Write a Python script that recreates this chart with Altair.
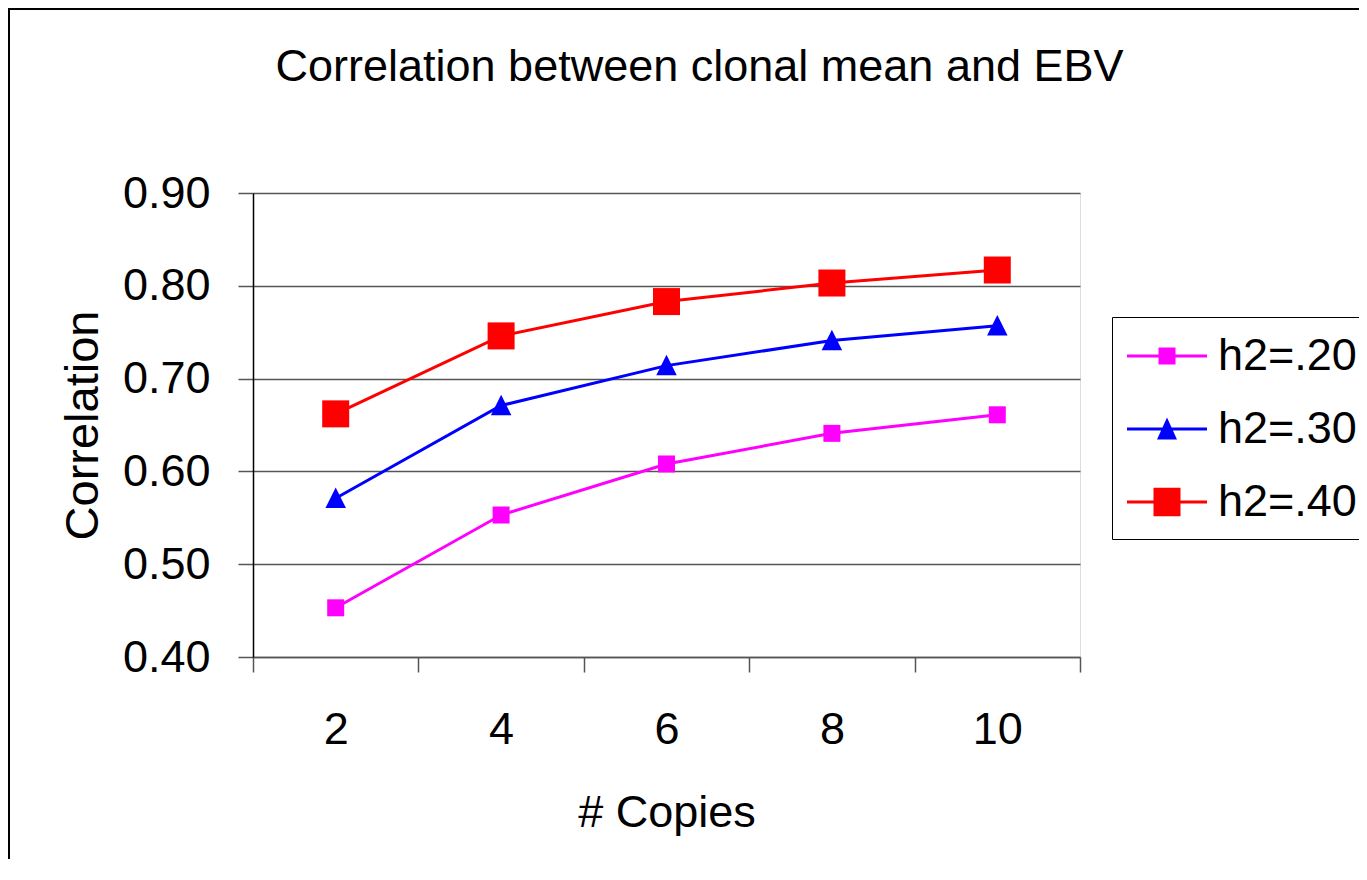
import altair as alt
import pandas as pd

# ---- data ----
copies = ["2", "4", "6", "8", "10"]
series_names = ["h2=.20", "h2=.30", "h2=.40"]
h2_20 = [0.453, 0.553, 0.608, 0.641, 0.661]
h2_30 = [0.571, 0.671, 0.714, 0.741, 0.757]
h2_40 = [0.662, 0.746, 0.783, 0.803, 0.817]
y_ticks = [0.4, 0.5, 0.6, 0.7, 0.8, 0.9]

rows = []
for name, vals in zip(series_names, [h2_20, h2_30, h2_40]):
    for c, v in zip(copies, vals):
        rows.append({"copies": c, "series": name, "corr": v})
df = pd.DataFrame(rows)

# ---- styles ----
FONT = "Liberation Sans"
colors = ["#FF00FF", "#0000FF", "#FF0000"]
plot_markers = [("square", 289), ("M0,-1.05L1,0.95L-1,0.95Z", 420), ("square", 729)]
legend_paths = [
    "M-1.6,-0.06H1.6V0.06H-1.6Z M-0.34,-0.34H0.34V0.34H-0.34Z",
    "M-1.6,-0.06H1.6V0.06H-1.6Z M0,-0.46L0.4,0.42H-0.4Z",
    "M-1.6,-0.06H1.6V0.06H-1.6Z M-0.54,-0.57H0.54V0.57H-0.54Z",
]
GRID = "#555555"

x_enc = alt.X(
    "copies:O",
    sort=copies,
    scale=alt.Scale(type="band", paddingInner=0, paddingOuter=0),
    axis=alt.Axis(
        title="# Copies", labelAngle=0, tickBand="extent", grid=False,
        domainColor=GRID, domainWidth=1.5, tickColor=GRID, tickWidth=1.5,
        tickSize=15, labelFontSize=45, labelPadding=35,
        titleFontSize=45, titlePadding=38, titleFontWeight="normal",
        labelFont=FONT, titleFont=FONT, labelColor="black", titleColor="black",
    ),
)
y_enc = alt.Y(
    "corr:Q",
    scale=alt.Scale(domain=[0.4, 0.9], zero=False, nice=False),
    axis=alt.Axis(
        title="Correlation", values=y_ticks, format=".2f",
        domainColor="black", domainWidth=1.5, tickColor=GRID, tickWidth=1.5,
        tickSize=15, labelFontSize=45, labelPadding=28,
        gridColor=GRID, gridWidth=1.5, gridOpacity=1,
        titleFontSize=47, titlePadding=15, titleFontWeight="normal",
        labelFont=FONT, titleFont=FONT, labelColor="black", titleColor="black",
    ),
)

base = alt.Chart(df)

# outer picture frame (only its left and top edges fall inside the picture)
frame_src = alt.Chart(pd.DataFrame({"f": [0]}))
frame_left = frame_src.mark_rule(color="black", strokeWidth=2).encode(
    x=alt.value(-244), y=alt.value(-184), y2=alt.value(720)
)
frame_top = frame_src.mark_rule(color="black", strokeWidth=2).encode(
    x=alt.value(-245), x2=alt.value(1150), y=alt.value(-184)
)

layers = [frame_left, frame_top]
for name, col in zip(series_names, colors):
    layers.append(
        base.transform_filter(alt.datum.series == name)
        .mark_line(strokeWidth=3, color=col)
        .encode(x=x_enc, y=y_enc)
    )
for name, col, (shape, size) in zip(series_names, colors, plot_markers):
    layers.append(
        base.transform_filter(alt.datum.series == name)
        .mark_point(filled=True, opacity=1, shape=shape, size=size,
                    strokeWidth=0, color=col)
        .encode(x=x_enc, y=y_enc)
    )

legend_cfg = dict(
    title=None, orient="none", legendX=859, legendY=124,
    symbolSize=2500, symbolStrokeWidth=0, symbolOffset=16, symbolOpacity=1,
    labelFontSize=45, labelFont=FONT, labelColor="black", labelOffset=26,
    labelLimit=400, padding=14, rowPadding=25,
    strokeColor="black", fillColor="white",
)
# invisible layer whose only job is to carry the legend
legend_layer = base.mark_point(filled=True, opacity=0).encode(
    x=x_enc, y=y_enc,
    color=alt.Color("series:N", scale=alt.Scale(domain=series_names, range=colors),
                    legend=alt.Legend(**legend_cfg)),
    shape=alt.Shape("series:N", scale=alt.Scale(domain=series_names, range=legend_paths),
                    legend=alt.Legend(**legend_cfg)),
)
layers.append(legend_layer)

chart = (
    alt.layer(*layers)
    .properties(
        width=827, height=464,
        autosize=alt.AutoSizeParams(type="none"),
        padding={"left": 245, "top": 185, "right": 279, "bottom": 202},
        title=alt.TitleParams(
            "Correlation between clonal mean and EBV",
            font=FONT, fontSize=45, fontWeight="normal", color="black",
            anchor="middle", frame="group", dx=33, baseline="alphabetic",
            offset=-118,
        ),
    )
    .configure_view(stroke=None)
    .configure(background="white")
)

chart.save("out.html", embed_options={"renderer": "svg", "actions": False})
